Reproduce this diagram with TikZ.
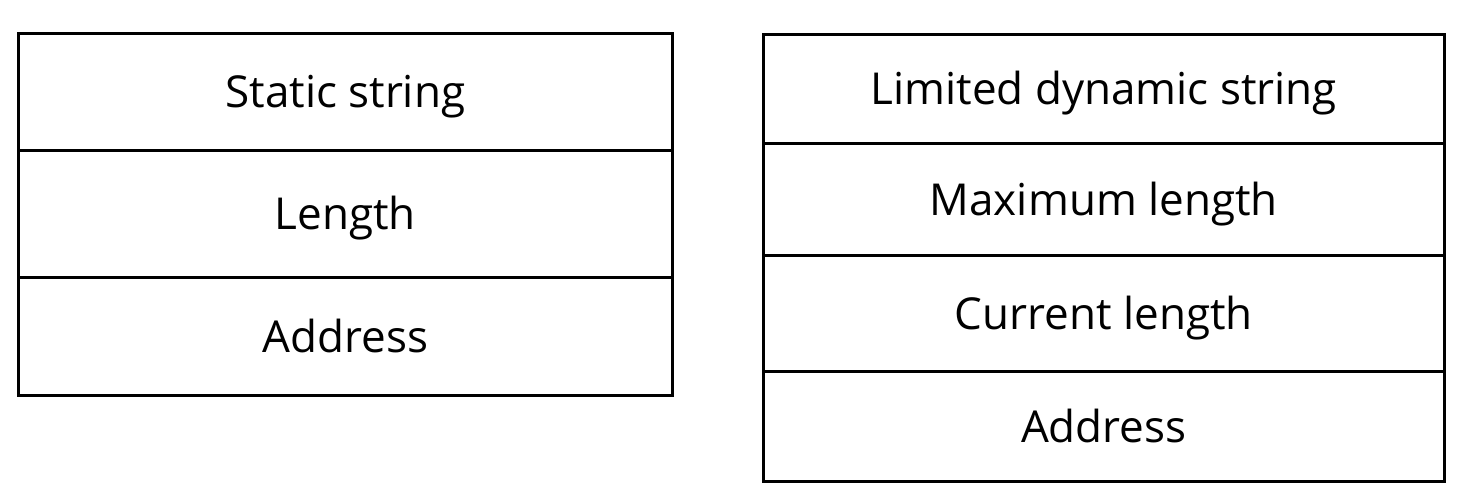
\documentclass[tikz,border=0pt]{standalone}
\usepackage{fontspec}
\setmainfont{Open Sans}
\begin{document}
\begin{tikzpicture}[x=1pt,y=-1pt,
  cell/.style={draw=black, line width=2.6pt, minimum height=#1, inner sep=0pt,
    text height=31.5pt, text depth=0pt, font=\fontsize{44}{52}\selectfont, anchor=north west},
  lcell/.style={cell=#1, minimum width=654pt},
  rcell/.style={cell=#1, minimum width=681pt}]
\useasboundingbox (0,0) rectangle (1457,488);
\node[lcell=117pt] (s1) at (17,32) {Static string};
\node[lcell=127pt] (s2) at (17,149) {Length};
\node[lcell=118pt] (s3) at (17,276) {Address};
\node[rcell=109pt] (d1) at (762,33) {Limited dynamic string};
\node[rcell=112pt] (d2) at (762,142) {Maximum length};
\node[rcell=116pt] (d3) at (762,254) {Current length};
\node[rcell=110pt] (d4) at (762,370) {Address};
\end{tikzpicture}
\end{document}
